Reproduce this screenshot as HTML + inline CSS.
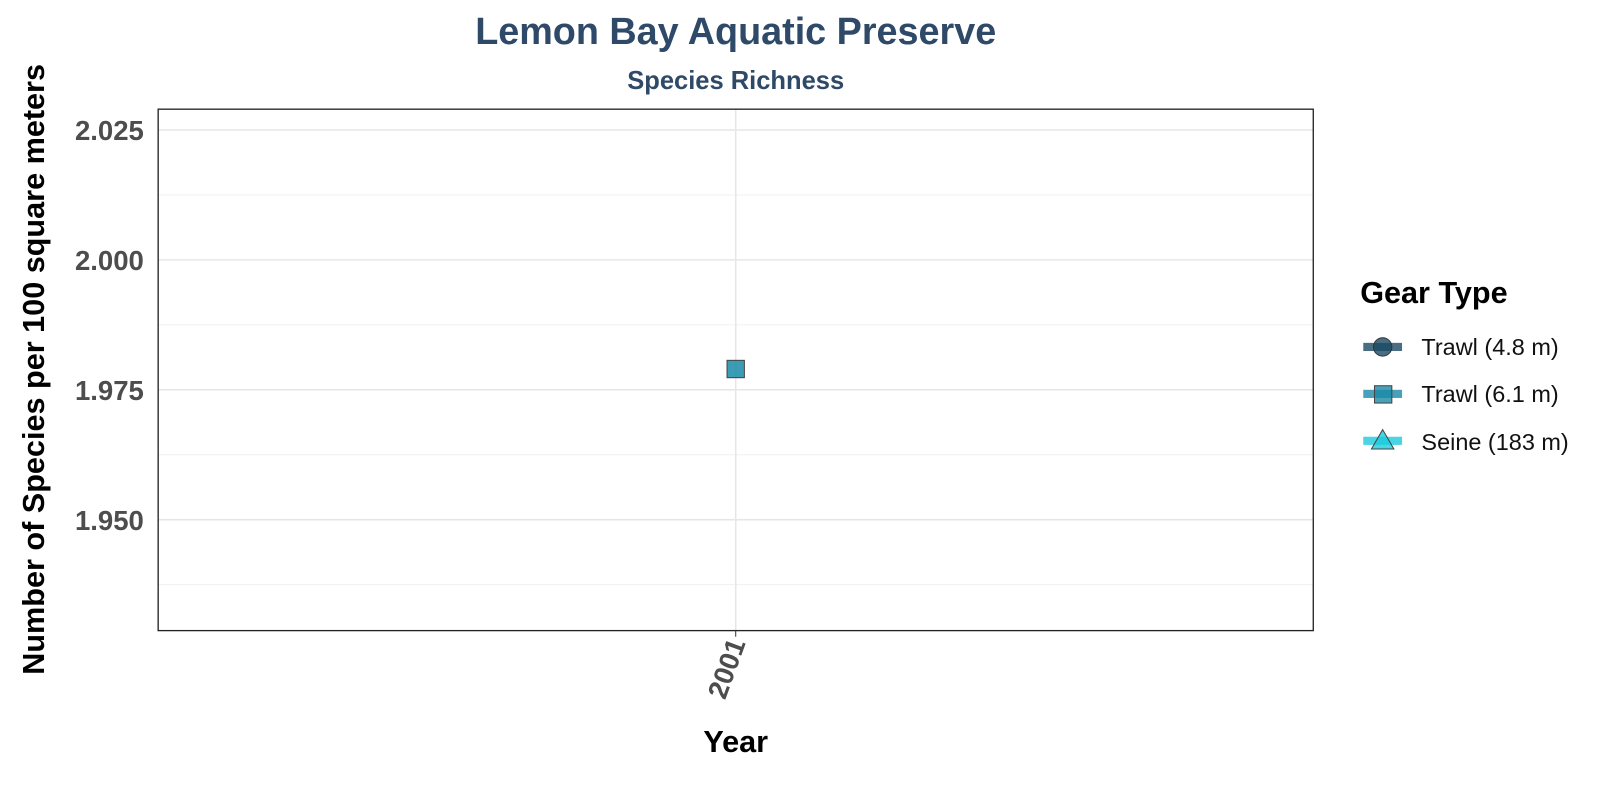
<!DOCTYPE html>
<html><head><meta charset="utf-8"><style>
body{margin:0;background:#fff;width:1600px;height:800px;overflow:hidden;font-family:"Liberation Sans",sans-serif}
</style></head><body>
<svg id="c" width="1600" height="800" viewBox="0 0 1568 784">
<text x="721" y="43" text-anchor="middle" font-size="37" font-weight="bold" fill="#2f4a68">Lemon Bay Aquatic Preserve</text>
<text x="721" y="87" text-anchor="middle" font-size="25" font-weight="bold" fill="#2f4a68">Species Richness</text>
<g id="grid"></g>
<rect x="155" y="107" width="1132" height="511" fill="none" stroke="#222" stroke-width="1.3"/>
<g id="marks"></g>
<text x="0" y="0" transform="translate(43,362) rotate(-90)" text-anchor="middle" font-size="30" font-weight="bold" fill="#000">Number of Species per 100 square meters</text>
<text x="721" y="737" text-anchor="middle" font-size="30" font-weight="bold" fill="#000">Year</text>
<g>
<text x="1333" y="297" font-size="30" font-weight="bold" fill="#000">Gear Type</text>
<g>
<rect x="1336" y="336" width="38" height="8" fill="#1b4a64" opacity="0.8"/>
<circle cx="1355" cy="340" r="9" fill="#1b4a64" fill-opacity="0.8" stroke="#333"/>
<text x="1393" y="348" font-size="23" fill="#111">Trawl (4.8 m)</text></g>
<g>
<rect x="1336" y="382" width="38" height="8" fill="#1a89a8" opacity="0.8"/>
<rect x="1347" y="378" width="17" height="17" fill="#1a89a8" fill-opacity="0.8" stroke="#444"/>
<text x="1393" y="394" font-size="23" fill="#111">Trawl (6.1 m)</text></g>
<g>
<rect x="1336" y="428" width="38" height="8" fill="#1ccbdc" opacity="0.8"/>
<polygon points="1355,421 1366,440 1344,440" fill="#1ccbdc" fill-opacity="0.8" stroke="#444"/>
<text x="1393" y="441" font-size="23" fill="#111">Seine (183 m)</text></g>
</g>
</svg>
<script>
const categories=["2001"];
const seriesTrawl61=[1.979];
const yTicks=[1.950,1.975,2.000,2.025];
const yTickLabels=["1.950","1.975","2.000","2.025"];
const NS="http://www.w3.org/2000/svg";
const x0=155,x1=1287;
function y(v){return 382+(1.975-v)*(127.3/0.025);}
function x(i){return x0+(x1-x0)*(i+0.5)/categories.length;}
const g=document.getElementById('grid'),m=document.getElementById('marks'),svg=document.getElementById('c');
function mk(t,a,p){const e=document.createElementNS(NS,t);for(const k in a)e.setAttribute(k,a[k]);p.appendChild(e);return e;}
for(let k=0;k<yTicks.length;k++){
  const yy=y(yTicks[k]);
  const l=mk('line',{x1:x0,x2:x1,y1:yy,y2:yy,stroke:'#e6e6e6','stroke-width':1.5},g);
  
  
  const ym=y(yTicks[k]-0.0125);
  if(ym>107&&ym<618){const l2=mk('line',{x1:x0,x2:x1,y1:ym,y2:ym,stroke:'#f0f0f0','stroke-width':1},g);
  
  }
  const t=mk('text',{x:141,y:yy+10,'text-anchor':'end','font-size':27,'font-weight':'bold',fill:'#4d4d4d'},svg);
  t.textContent=yTickLabels[k];
  
  
}
{const ym=y(2.025+0.0125);if(ym>107){const l2=mk('line',{x1:x0,x2:x1,y1:ym,y2:ym,stroke:'#f0f0f0'},g);}}
categories.forEach((c,i)=>{
  const xx=x(i);
  const l=mk('line',{x1:xx,x2:xx,y1:107,y2:618,stroke:'#e6e6e6','stroke-width':1.5},g);
  
  
  const tk=mk('line',{x1:xx,x2:xx,y1:618,y2:624,stroke:'#333'},svg);
  
  
  const t=mk('text',{x:0,y:0,transform:`translate(${xx+10},630) rotate(-70)`,'text-anchor':'end','font-size':27,'font-weight':'bold',fill:'#4d4d4d'},svg);
  t.textContent=c;
  
  
  const s=mk('rect',{x:xx-8.5,y:y(seriesTrawl61[i])-8.5,width:17,height:17,fill:'#1a89a8','fill-opacity':0.85,stroke:'#444'},m);
  
  
});
</script>
</body></html>
